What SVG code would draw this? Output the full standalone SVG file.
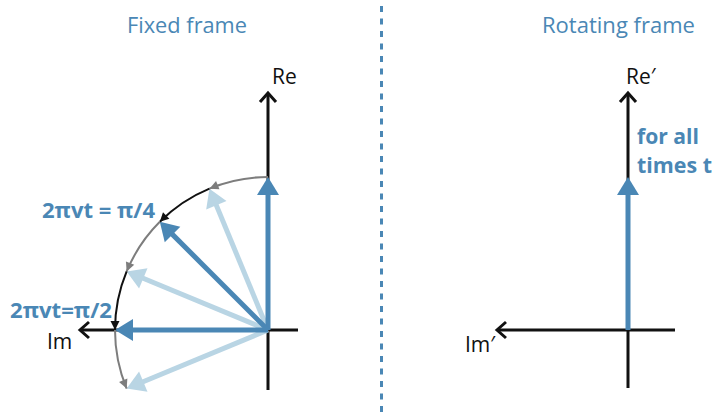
<svg xmlns="http://www.w3.org/2000/svg" width="713" height="413" viewBox="0 0 713 413">
<style>
.title{font-family:"Open Sans","Liberation Sans",sans-serif;font-size:21px;fill:#4a87b5}
.axlbl{font-family:"Open Sans","Liberation Sans",sans-serif;font-size:21px;fill:#111}
.blbl{font-family:"Open Sans","Liberation Sans",sans-serif;font-size:21px;font-weight:bold;fill:#4a87b5}
.axis{stroke:#111;stroke-width:3;fill:none;marker-end:url(#axhead)}
.vdark{stroke:#4a87b5;stroke-width:5;fill:none;marker-end:url(#darkhead)}
.vlight{stroke:#b9d5e4;stroke-width:5;fill:none;marker-end:url(#lighthead)}
.arcg{stroke:#7d7d7d;stroke-width:2;fill:none;marker-end:url(#grayhead)}
.arck{stroke:#111;stroke-width:2;fill:none;marker-end:url(#blackhead)}
</style>
<defs>
<marker id="axhead" markerUnits="userSpaceOnUse" markerWidth="30" markerHeight="30" viewBox="-15 -15 30 30" refX="0" refY="0" orient="auto" overflow="visible">
<path d="M-9,-8 L0,0 L-9,8" fill="none" stroke="#111" stroke-width="3"/>
</marker>
<marker id="darkhead" markerUnits="userSpaceOnUse" markerWidth="40" markerHeight="40" viewBox="-20 -20 40 40" refX="0" refY="0" orient="auto" overflow="visible">
<path d="M-8,-11 L10,0 L-8,11 z" fill="#4a87b5"/>
</marker>
<marker id="lighthead" markerUnits="userSpaceOnUse" markerWidth="40" markerHeight="40" viewBox="-20 -20 40 40" refX="0" refY="0" orient="auto" overflow="visible">
<path d="M-8,-11 L10,0 L-8,11 z" fill="#b9d5e4"/>
</marker>
<marker id="grayhead" markerUnits="userSpaceOnUse" markerWidth="20" markerHeight="20" viewBox="-10 -10 20 20" refX="0" refY="0" orient="auto" overflow="visible">
<path d="M-9,-4.5 L0,0 L-9,4.5 z" fill="#7d7d7d"/>
</marker>
<marker id="blackhead" markerUnits="userSpaceOnUse" markerWidth="20" markerHeight="20" viewBox="-10 -10 20 20" refX="0" refY="0" orient="auto" overflow="visible">
<path d="M-9,-4.5 L0,0 L-9,4.5 z" fill="#111"/>
</marker>
</defs>
<rect width="713" height="413" fill="#fff"/>

<g id="divider">
<line x1="381.5" y1="6" x2="381.5" y2="413" stroke="#4a87b5" stroke-width="3" stroke-dasharray="6 6.5"/>
</g>

<g id="title-fixed"><text class="title" x="127" y="33" textLength="120" lengthAdjust="spacingAndGlyphs">Fixed frame</text></g>
<g id="title-rotating"><text class="title" x="542" y="33" textLength="153" lengthAdjust="spacingAndGlyphs">Rotating frame</text></g>

<g id="fixed-axes" transform="translate(268,330)">
<line class="axis" x1="0" y1="60" x2="0" y2="-237"/>
<line class="axis" x1="30" y1="0" x2="-188" y2="0"/>
</g>
<g id="label-Re"><text class="axlbl" x="272" y="84">Re</text></g>
<g id="label-Im"><text class="axlbl" x="47" y="349">Im</text></g>

<g id="connectors" transform="translate(268,330)">
<line class="vlight" x1="0" y1="0" x2="-54.72" y2="-132.11"/>
<line class="vlight" x1="0" y1="0" x2="-132.11" y2="-54.72"/>
<line class="vlight" x1="0" y1="0" x2="-132.11" y2="54.72"/>
<line class="vdark" x1="0" y1="0" x2="0" y2="-143"/>
<line class="vdark" x1="0" y1="0" x2="-101.12" y2="-101.12"/>
<line class="vdark" x1="0" y1="0" x2="-143" y2="0"/>
<path class="arcg" d="M0,-153 A153,153 0 0 0 -58.55,-141.35"/>
<path class="arck" d="M-58.55,-141.35 A153,153 0 0 0 -108.19,-108.19"/>
<path class="arcg" d="M-108.19,-108.19 A153,153 0 0 0 -141.35,-58.55"/>
<path class="arck" d="M-141.35,-58.55 A153,153 0 0 0 -153,0"/>
<path class="arcg" d="M-153,0 A153,153 0 0 0 -141.35,58.55"/>
</g>

<g id="label-pi4"><text class="blbl" x="42" y="218" textLength="113" lengthAdjust="spacingAndGlyphs">2πvt = π/4</text></g>
<g id="label-pi2"><text class="blbl" x="10" y="318" textLength="102" lengthAdjust="spacingAndGlyphs">2πvt=π/2</text></g>

<g id="rotating-axes" transform="translate(628,330)">
<line class="axis" x1="0" y1="58" x2="0" y2="-237"/>
<line class="axis" x1="47" y1="0" x2="-131" y2="0"/>
<line class="vdark" x1="0" y1="0" x2="0" y2="-143"/>
</g>
<g id="label-Re-prime"><text class="axlbl" x="626" y="84">Re′</text></g>
<g id="label-Im-prime"><text class="axlbl" x="465" y="352">Im′</text></g>
<g id="label-alltimes">
<text class="blbl" x="637" y="144" textLength="62" lengthAdjust="spacingAndGlyphs">for all</text>
<text class="blbl" x="637" y="173" textLength="75" lengthAdjust="spacingAndGlyphs">times t</text>
</g>
</svg>
